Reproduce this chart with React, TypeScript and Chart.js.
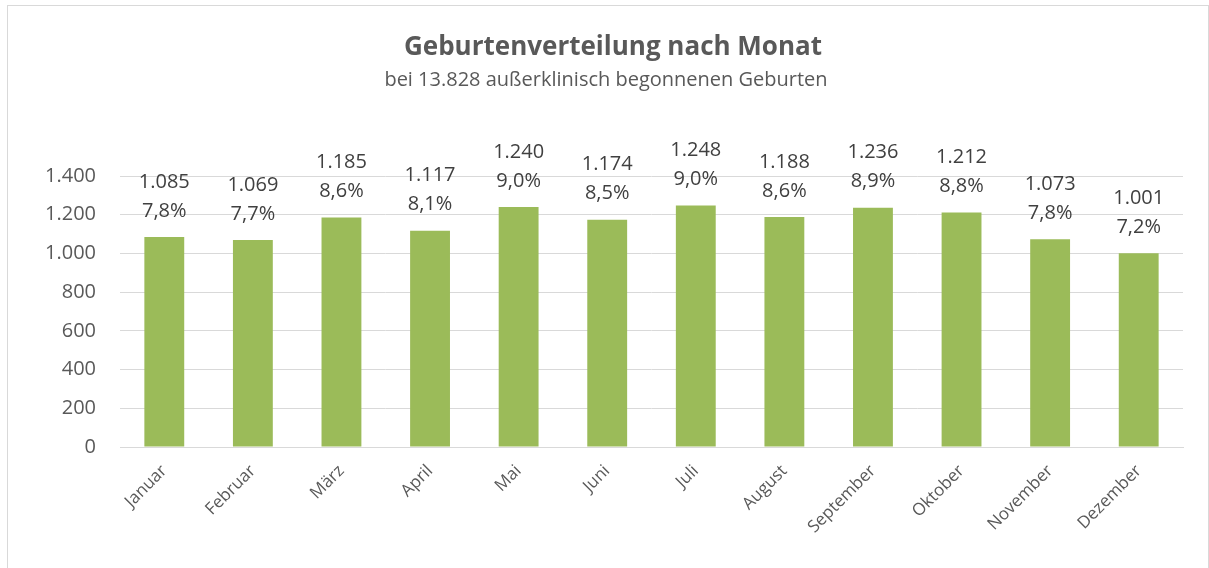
import React, { useEffect, useRef } from "react";
import { Chart, registerables } from "chart.js";

Chart.register(...registerables);

const months = ["Januar", "Februar", "März", "April", "Mai", "Juni", "Juli", "August", "September", "Oktober", "November", "Dezember"];
const births = [1085, 1069, 1185, 1117, 1240, 1174, 1248, 1188, 1236, 1212, 1073, 1001];
const percentLabels = ["7,8%", "7,7%", "8,6%", "8,1%", "9,0%", "8,5%", "9,0%", "8,6%", "8,9%", "8,8%", "7,8%", "7,2%"];
const titleText = "Geburtenverteilung nach Monat";
const subtitleText = "bei 13.828 außerklinisch begonnenen Geburten";

const FONT = "'Open Sans', sans-serif";
const TEXT = "#595959";

const fmt = (v: number) => v.toLocaleString("de-DE");

const labelPlugin = {
  id: "customLabels",
  afterDatasetsDraw(chart: any) {
    const ctx = chart.ctx;
    const meta = chart.getDatasetMeta(0);
    ctx.save();
    ctx.fillStyle = "#404040";
    ctx.font = `20px ${FONT}`;
    ctx.textAlign = "center";
    ctx.textBaseline = "middle";
    meta.data.forEach((bar: any, i: number) => {
      ctx.fillText(fmt(births[i]), bar.x, bar.y - 55);
      ctx.fillText(percentLabels[i], bar.x, bar.y - 26);
    });
    ctx.restore();
  },
  afterDraw(chart: any) {
    const ctx = chart.ctx;
    ctx.save();
    ctx.fillStyle = TEXT;
    ctx.textAlign = "center";
    ctx.textBaseline = "middle";
    ctx.font = `bold 26px ${FONT}`;
    ctx.fillText(titleText, 613, 48);
    ctx.font = `20px ${FONT}`;
    ctx.fillText(subtitleText, 606, 80);
    ctx.restore();
  },
};

export default function App() {
  const ref = useRef<HTMLCanvasElement>(null);
  useEffect(() => {
    if (!ref.current) return;
    const chart = new Chart(ref.current, {
      type: "bar",
      data: {
        labels: months,
        datasets: [
          {
            data: births,
            backgroundColor: "#9bbb59",
            barPercentage: 0.9,
            categoryPercentage: 0.5,
          },
        ],
      },
      options: {
        animation: false,
        responsive: false,
        maintainAspectRatio: false,
        layout: { padding: { top: 176, right: 26, left: 0, bottom: 0 } },
        plugins: { legend: { display: false }, tooltip: { enabled: false }, title: { display: false } },
        scales: {
          y: {
            min: 0,
            max: 1400,
            ticks: {
              stepSize: 200,
              color: TEXT,
              font: { family: FONT, size: 20 },
              padding: 24,
              callback: (v: any) => fmt(Number(v)),
            },
            grid: { color: "#d9d9d9", lineWidth: 1, drawTicks: false },
            border: { display: false },
            afterFit: (s: any) => {
              s.width = 120;
            },
          },
          x: {
            ticks: {
              color: TEXT,
              font: { family: FONT, size: 17 },
              minRotation: 45,
              maxRotation: 45,
              padding: 6,
            },
            grid: { display: false },
            border: { color: "#d9d9d9", width: 1 },
            afterFit: (s: any) => {
              s.height = 121;
            },
          },
        },
      },
      plugins: [labelPlugin],
    });
    return () => chart.destroy();
  }, []);
  return (
    <div style={{ position: "fixed", left: 0, top: 0, width: 1209, height: 568, background: "#fff" }}>
      <div
        style={{
          position: "absolute",
          left: 7,
          top: 5,
          width: 1202,
          height: 580,
          border: "1px solid #d9d9d9",
          boxSizing: "border-box",
        }}
      />
      <canvas ref={ref} width={1209} height={568} style={{ position: "absolute", left: 0, top: 0 }} />
    </div>
  );
}
